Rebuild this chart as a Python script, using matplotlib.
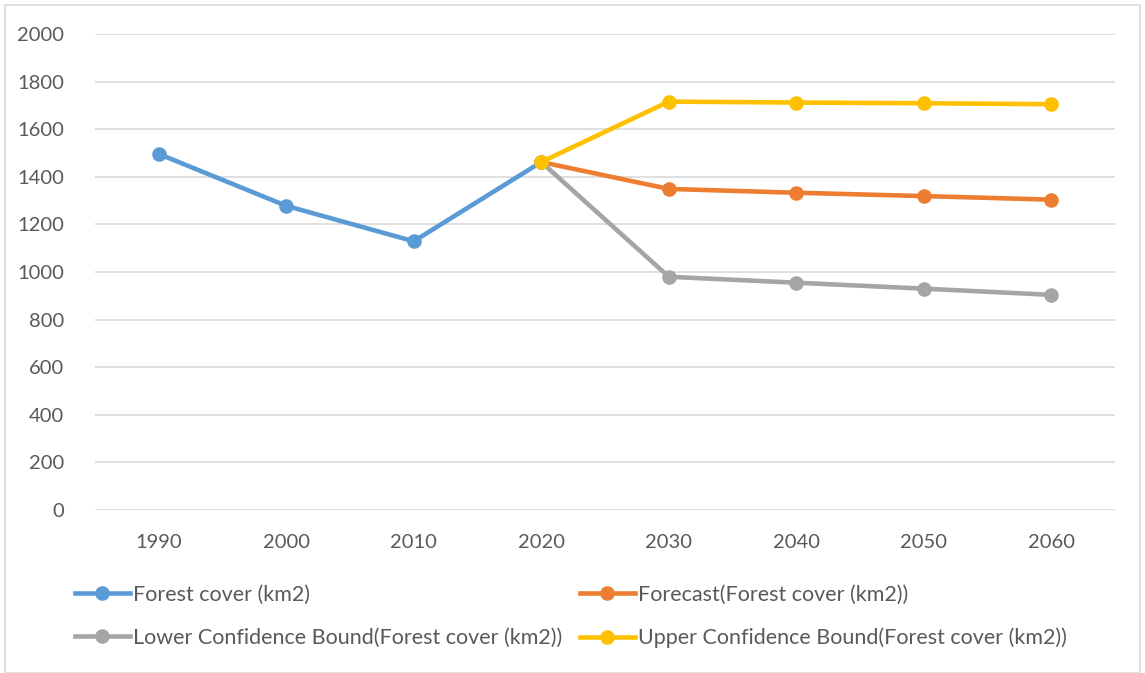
import numpy as np
import matplotlib.pyplot as plt
from matplotlib.patches import Rectangle
from matplotlib.lines import Line2D

years = ["1990", "2000", "2010", "2020", "2030", "2040", "2050", "2060"]
forest_cover = [1496, 1278, 1129, 1462, None, None, None, None]
forecast = [None, None, None, 1462, 1349, 1333, 1319, 1304]
lower_bound = [None, None, None, 1462, 980, 955, 930, 904]
upper_bound = [None, None, None, 1462, 1716, 1712, 1709, 1705]

series_names = [
    "Forest cover (km2)",
    "Forecast(Forest cover (km2))",
    "Lower Confidence Bound(Forest cover (km2))",
    "Upper Confidence Bound(Forest cover (km2))",
]
series_values = [forest_cover, forecast, lower_bound, upper_bound]
series_colors = ["#5B9BD5", "#ED7D31", "#A5A5A5", "#FFC000"]

y_ticks = [0, 200, 400, 600, 800, 1000, 1200, 1400, 1600, 1800, 2000]

plt.rcParams["font.family"] = ["Lato", "DejaVu Sans"]
text_color = "#595959"
W, H = 1145, 673

fig = plt.figure(figsize=(W / 100, H / 100), dpi=100)
fig.patch.set_facecolor("white")
fig.add_artist(Rectangle((0.004, 0.0), 0.992, 0.993, transform=fig.transFigure,
                         fill=False, edgecolor="#D9D9D9", linewidth=1.2))

ax = fig.add_axes([95 / W, 1 - 510 / H, 1020 / W, 476 / H])
x = np.arange(len(years))

handles = []
for name, vals, col in zip(series_names, series_values, series_colors):
    arr = np.array([np.nan if v is None else v for v in vals], dtype=float)
    h, = ax.plot(x, arr, color=col, linewidth=3.3, marker="o", markersize=10.5,
                 markeredgewidth=0, label=name, solid_capstyle="round", zorder=3)
    handles.append(h)

ax.set_xlim(-0.5, len(years) - 0.5)
ax.set_ylim(0, 2000)
ax.set_yticks(y_ticks)
ax.set_xticks(x)
ax.set_xticklabels(years)
ax.grid(axis="y", color="#D9D9D9", linewidth=1.2, zorder=0)
ax.set_axisbelow(True)
for s in ax.spines.values():
    s.set_visible(False)
ax.tick_params(axis="both", length=0, colors=text_color, labelsize=14.5)
ax.tick_params(axis="x", pad=17)
ax.tick_params(axis="y", pad=22)

# legend entries laid out in two rows of two
entry_pos = [(75, 595), (580, 595), (75, 638), (580, 638)]
for h, name, (px, py) in zip(handles, series_names, entry_pos):
    proxy = Line2D([], [], color=h.get_color(), linewidth=3.3, marker="o",
                   markersize=10.5, markeredgewidth=0)
    fig.legend(handles=[proxy], labels=[name], loc="center left",
               bbox_to_anchor=(px / W, 1 - py / H), frameon=False,
               fontsize=15.5, handlelength=2.55, handletextpad=0.15,
               borderpad=0, borderaxespad=0, labelcolor=text_color)

fig.savefig("out.png", dpi=100, facecolor="white")
